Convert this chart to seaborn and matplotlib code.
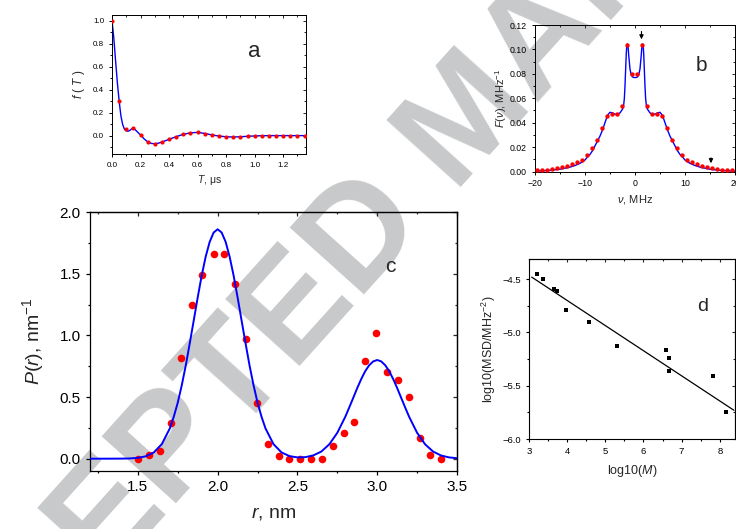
import matplotlib
matplotlib.use("Agg")
import matplotlib.pyplot as plt
import seaborn as sns
from matplotlib.ticker import MultipleLocator

# ---- panel a: time-domain trace f(T) ----
t_pts = [0.0, 0.05, 0.10, 0.15, 0.20, 0.25, 0.30, 0.35, 0.40, 0.45, 0.50, 0.55, 0.60, 0.65,
         0.70, 0.75, 0.80, 0.85, 0.90, 0.95, 1.00, 1.05, 1.10, 1.15, 1.20, 1.25, 1.30, 1.35]
f_pts = [1.0, 0.30, 0.061, 0.067, 0.006, -0.056, -0.070, -0.056, -0.032, -0.009, 0.012, 0.023,
         0.029, 0.018, 0.006, -0.003, -0.009, -0.012, -0.009, -0.006, -0.003, 0.0, 0.0, 0.0,
         0.0, 0.0, 0.0, 0.0]
t_fit = [0.0, 0.0125, 0.025, 0.0375, 0.05, 0.0625, 0.075, 0.0875, 0.10, 0.1125, 0.125, 0.1375,
         0.15, 0.1625, 0.175, 0.1875, 0.20, 0.225, 0.25, 0.275, 0.30, 0.325, 0.35, 0.40, 0.45,
         0.50, 0.55, 0.60, 0.65, 0.70, 0.75, 0.80, 0.85, 0.90, 0.95, 1.00, 1.05, 1.10, 1.36]
f_fit = [1.0, 0.85, 0.65, 0.46, 0.30, 0.17, 0.095, 0.055, 0.042, 0.038, 0.046, 0.058,
         0.062, 0.052, 0.036, 0.020, 0.006, -0.028, -0.055, -0.068, -0.071, -0.066, -0.056,
         -0.032, -0.009, 0.011, 0.024, 0.028, 0.019, 0.006, -0.004, -0.010, -0.012, -0.010,
         -0.006, -0.003, -0.001, 0.0, 0.0]

# ---- panel b: frequency spectrum F(nu) ----
nu_pts = [-19.5, -18.5, -17.5, -16.5, -15.5, -14.5, -13.5, -12.5, -11.5, -10.5, -9.5, -8.5,
          -7.5, -6.5, -5.5, -4.5, -3.5, -2.5, -1.5, -0.5, 0.5, 1.5, 2.5, 3.5, 4.5, 5.5, 6.5,
          7.5, 8.5, 9.5, 10.5, 11.5, 12.5, 13.5, 14.5, 15.5, 16.5, 17.5, 18.5, 19.5]
F_pts = [0.001, 0.0014, 0.0016, 0.0022, 0.0027, 0.0036, 0.0046, 0.006, 0.0074, 0.0098, 0.0137,
         0.019, 0.026, 0.0355, 0.0456, 0.047, 0.047, 0.054, 0.104, 0.080,
         0.080, 0.104, 0.054, 0.047, 0.047, 0.0456, 0.0355, 0.026, 0.019, 0.0137, 0.0098,
         0.0074, 0.006, 0.0046, 0.0036, 0.0027, 0.0022, 0.0016, 0.0014, 0.001]
nu_fit = [-20, -19, -18, -17, -16, -15, -14, -13, -12, -11, -10, -9.5, -9, -8.5, -8, -7.5, -7,
          -6.5, -6, -5.5, -5, -4.5, -4, -3.5, -3, -2.5, -2.25, -2.125, -2.0, -1.875, -1.75,
          -1.625, -1.5, -1.375, -1.25, -1.0, -0.75, -0.5, -0.25, 0,
          0.25, 0.5, 0.75, 1.0, 1.25, 1.375, 1.5, 1.625, 1.75, 1.875, 2.0, 2.125, 2.25, 2.5,
          3, 3.5, 4, 4.5, 5, 5.5, 6, 6.5, 7, 7.5, 8, 8.5, 9, 9.5, 10, 11, 12, 13, 14, 15, 16,
          17, 18, 19, 20]
F_fit = [0.0003, 0.0005, 0.0007, 0.001, 0.0014, 0.0019, 0.0027, 0.0036, 0.0049, 0.0067, 0.0094,
         0.012, 0.014, 0.017, 0.021, 0.025, 0.029, 0.034, 0.040, 0.046, 0.0485, 0.048, 0.047,
         0.0467, 0.048, 0.051, 0.055, 0.060, 0.070, 0.083, 0.096, 0.104, 0.1045, 0.102, 0.095,
         0.084, 0.079, 0.0775, 0.077, 0.077,
         0.077, 0.0775, 0.079, 0.084, 0.095, 0.102, 0.1045, 0.104, 0.096, 0.083, 0.070, 0.060,
         0.055, 0.051, 0.048, 0.0467, 0.047, 0.048, 0.0485, 0.046, 0.040, 0.034, 0.029, 0.025,
         0.021, 0.017, 0.014, 0.012, 0.0094, 0.0067, 0.0049, 0.0036, 0.0027, 0.0019, 0.0014,
         0.001, 0.0007, 0.0005, 0.0003]
arrow_nu = [1.3, 15.2]
arrow_tail = [0.117, 0.0135]
arrow_tip = [0.106, 0.0045]

# ---- panel c: distance distribution P(r) ----
r_pts = [1.50, 1.569, 1.638, 1.705, 1.772, 1.839, 1.905, 1.974, 2.041, 2.11, 2.179, 2.246,
         2.313, 2.382, 2.45, 2.517, 2.586, 2.653, 2.72, 2.79, 2.856, 2.925, 2.994, 3.061,
         3.128, 3.197, 3.266, 3.333, 3.40]
p_pts = [0.0, 0.03, 0.06, 0.29, 0.82, 1.25, 1.49, 1.66, 1.66, 1.42, 0.97, 0.45, 0.12, 0.02,
         0.0, 0.0, 0.0, 0.0, 0.10, 0.21, 0.30, 0.79, 1.02, 0.70, 0.64, 0.50, 0.17, 0.03, 0.0]
r_fit = [1.2, 1.3, 1.4, 1.45, 1.5, 1.55, 1.6, 1.65, 1.7, 1.725, 1.75, 1.775, 1.8, 1.825, 1.85,
         1.875, 1.9, 1.925, 1.95, 1.975, 2.0, 2.025, 2.05, 2.075, 2.1, 2.125, 2.15, 2.175,
         2.2, 2.225, 2.25, 2.275, 2.3, 2.35, 2.4, 2.45, 2.5, 2.55, 2.6, 2.65, 2.7, 2.75, 2.8,
         2.825, 2.85, 2.875, 2.9, 2.925, 2.95, 2.975, 3.0, 3.025, 3.05, 3.075, 3.1, 3.125,
         3.15, 3.175, 3.2, 3.25, 3.3, 3.35, 3.4, 3.45, 3.5]
p_fit = [0.0, 0.0, 0.0006, 0.002, 0.0067, 0.0195, 0.051, 0.118, 0.245, 0.34, 0.455, 0.595,
         0.755, 0.935, 1.12, 1.308, 1.485, 1.638, 1.758, 1.834, 1.86, 1.834, 1.758, 1.638,
         1.485, 1.308, 1.12, 0.935, 0.755, 0.595, 0.455, 0.34, 0.245, 0.118, 0.051, 0.021,
         0.0105, 0.0125, 0.027, 0.058, 0.117, 0.21, 0.34, 0.416, 0.494, 0.573, 0.646, 0.71,
         0.758, 0.789, 0.80, 0.789, 0.758, 0.71, 0.646, 0.573, 0.494, 0.416, 0.34, 0.21,
         0.117, 0.058, 0.026, 0.0105, 0.0038]

# ---- panel d: log-log scaling ----
logM = [3.22, 3.36, 3.66, 3.73, 3.97, 4.58, 5.30, 6.59, 6.66, 6.66, 7.82, 8.15]
logMSD = [-4.45, -4.50, -4.59, -4.61, -4.79, -4.90, -5.13, -5.16, -5.24, -5.36, -5.41, -5.75]
fit_x = [3.07, 8.37]
fit_y = [-4.48, -5.73]

sns.set_theme(style="ticks")
plt.rcParams["font.family"] = ["Liberation Sans", "DejaVu Sans"]
plt.rcParams["mathtext.fontset"] = "custom"
plt.rcParams["mathtext.rm"] = "Liberation Sans"
plt.rcParams["mathtext.it"] = "Liberation Sans:italic"
plt.rcParams["mathtext.bf"] = "Liberation Sans:bold"

RED = "#ff0000"
BLUE = "#0000ff"


def frame(ax, xmaj, xmin, ymaj, ymin, size, major_len, lw):
    ax.set_facecolor("none")
    for sp in ax.spines.values():
        sp.set_visible(True)
        sp.set_color("black")
        sp.set_linewidth(lw)
    ax.xaxis.set_major_locator(MultipleLocator(xmaj))
    ax.xaxis.set_minor_locator(MultipleLocator(xmin))
    ax.yaxis.set_major_locator(MultipleLocator(ymaj))
    ax.yaxis.set_minor_locator(MultipleLocator(ymin))
    ax.tick_params(which="both", direction="out", colors="black", labelsize=size,
                   width=lw, top=False, right=False)
    ax.tick_params(which="major", length=major_len)
    ax.tick_params(which="minor", length=major_len * 0.55)
    top = ax.secondary_xaxis("top")
    top.xaxis.set_major_locator(MultipleLocator(xmaj))
    top.xaxis.set_minor_locator(MultipleLocator(xmin))
    top.tick_params(which="both", direction="in", labeltop=False, width=lw)
    top.tick_params(which="major", length=major_len)
    top.tick_params(which="minor", length=major_len * 0.55)
    top.spines["top"].set_linewidth(lw)
    right = ax.secondary_yaxis("right")
    right.yaxis.set_major_locator(MultipleLocator(ymaj))
    right.yaxis.set_minor_locator(MultipleLocator(ymin))
    right.tick_params(which="both", direction="in", labelright=False, width=lw)
    right.tick_params(which="major", length=major_len)
    right.tick_params(which="minor", length=major_len * 0.55)
    right.spines["right"].set_linewidth(lw)


fig = plt.figure(figsize=(7.36, 5.29), dpi=100)

# watermark behind the panels
fig.text(0.638, 0.771, "ACCEPTED MANUSCRIPT", rotation=48, rotation_mode="anchor",
         ha="center", va="center", fontsize=104, fontweight="bold", color="#c8c9ca",
         zorder=-10)

# a
ax_a = fig.add_axes([0.1522, 0.7089, 0.2636, 0.2628])
sns.lineplot(x=t_fit, y=f_fit, ax=ax_a, color=BLUE, lw=1.0, estimator=None, sort=False)
sns.scatterplot(x=t_pts, y=f_pts, ax=ax_a, color=RED, s=9, linewidth=0, zorder=3)
ax_a.set_xlim(0, 1.36)
ax_a.set_ylim(-0.16, 1.05)
frame(ax_a, 0.2, 0.1, 0.2, 0.1, 5.8, 2.2, 0.7)
ax_a.set_xlabel("$T$, μs", fontsize=7.5, labelpad=3)
ax_a.set_ylabel("$f$ ( $T$ )", fontsize=8.5, labelpad=4)
ax_a.text(1.0, 0.73, "a", fontsize=16, ha="center", va="center")

# b
ax_b = fig.add_axes([0.7269, 0.6758, 0.2717, 0.2769])
sns.lineplot(x=nu_fit, y=F_fit, ax=ax_b, color=BLUE, lw=1.0, estimator=None, sort=False)
sns.scatterplot(x=nu_pts, y=F_pts, ax=ax_b, color=RED, s=10, linewidth=0, zorder=3)
for xa, y0, y1 in zip(arrow_nu, arrow_tail, arrow_tip):
    ax_b.annotate("", xy=(xa, y1), xytext=(xa, y0),
                  arrowprops=dict(arrowstyle="-|>", color="black", lw=0.8, mutation_scale=6))
ax_b.set_xlim(-20, 20)
ax_b.set_ylim(0, 0.12)
frame(ax_b, 10, 5, 0.02, 0.01, 6.3, 2.2, 0.7)
ax_b.set_xlabel("$\\nu$, MHz", fontsize=8, labelpad=3)
ax_b.set_ylabel("$F$($\\nu$), MHz$^{-1}$", fontsize=8, labelpad=1)
ax_b.text(13.2, 0.087, "b", fontsize=15, ha="center", va="center")

# c
ax_c = fig.add_axes([0.1223, 0.1096, 0.4986, 0.4896])
sns.scatterplot(x=r_pts, y=p_pts, ax=ax_c, color=RED, s=30, linewidth=0, zorder=2)
sns.lineplot(x=r_fit, y=p_fit, ax=ax_c, color=BLUE, lw=1.4, estimator=None, sort=False,
             zorder=3)
ax_c.set_xlim(1.2, 3.5)
ax_c.set_ylim(-0.1, 2.0)
frame(ax_c, 0.5, 0.25, 0.5, 0.25, 11, 3.2, 0.9)
ax_c.set_xlabel("$r$, nm", fontsize=14, labelpad=8)
ax_c.set_ylabel("$P$($r$), nm$^{-1}$", fontsize=14, labelpad=10)
ax_c.text(3.08, 1.555, "c", fontsize=15, ha="center", va="center")

# d
ax_d = fig.add_axes([0.7188, 0.1701, 0.2799, 0.3403])
sns.lineplot(x=fit_x, y=fit_y, ax=ax_d, color="black", lw=0.9, estimator=None, sort=False)
sns.scatterplot(x=logM, y=logMSD, ax=ax_d, color="black", marker="s", s=9, linewidth=0,
                zorder=3)
ax_d.set_xlim(3, 8.4)
ax_d.set_ylim(-6.0, -4.31)
frame(ax_d, 1, 0.5, 0.5, 0.25, 6.8, 2.5, 0.8)
ax_d.set_xlabel("log10($M$)", fontsize=9, labelpad=5)
ax_d.set_ylabel("log10(MSD/MHz$^{-2}$)", fontsize=9, labelpad=3)
ax_d.text(7.56, -4.76, "d", fontsize=14, ha="center", va="center")

fig.savefig("out.png", dpi=100)
